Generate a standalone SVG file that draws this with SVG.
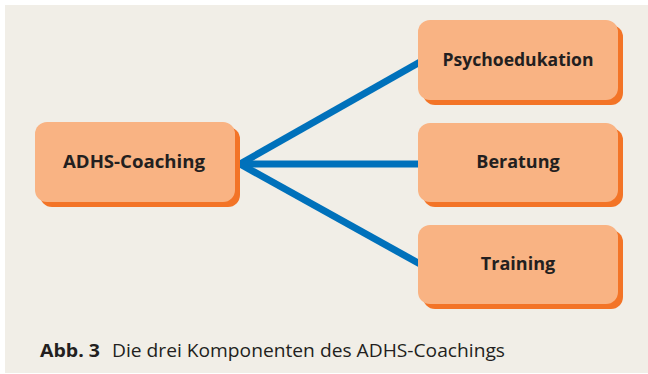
<svg xmlns="http://www.w3.org/2000/svg" width="648" height="374" viewBox="0 0 648 374">
  <style>
    .shadow { fill: #F37427; }
    .box { fill: #F9B383; }
    .label { font-family: "Open Sans", "Liberation Sans", sans-serif; font-weight: bold; font-size: 18px; fill: #231F20; text-anchor: middle; }
    .link { stroke: #0071BB; stroke-width: 7; fill: none; stroke-linecap: butt; }
    .cap { font-family: "Open Sans", "Liberation Sans", sans-serif; font-size: 18px; fill: #231F20; }
  </style>
  <rect x="5" y="5" width="643" height="368" fill="#F1EEE7"/>

  <g id="connectors">
    <line class="link" x1="240" y1="164" x2="420" y2="62"/>
    <line class="link" x1="240" y1="164" x2="420" y2="164"/>
    <line class="link" x1="240" y1="164" x2="420" y2="264"/>
  </g>

  <g id="adhs-coaching">
    <rect class="shadow" x="40" y="127" width="200" height="80" rx="12"/>
    <rect class="box" x="35" y="122" width="200" height="80" rx="12"/>
    <text class="label" x="134" y="168" textLength="142" lengthAdjust="spacingAndGlyphs">ADHS-Coaching</text>
  </g>

  <g id="psychoedukation">
    <rect class="shadow" x="423" y="25" width="200" height="80" rx="12"/>
    <rect class="box" x="418" y="20" width="200" height="80" rx="12"/>
    <text class="label" x="518" y="66" textLength="151" lengthAdjust="spacingAndGlyphs">Psychoedukation</text>
  </g>

  <g id="beratung">
    <rect class="shadow" x="423" y="128" width="200" height="79" rx="12"/>
    <rect class="box" x="418" y="123" width="200" height="79" rx="12"/>
    <text class="label" x="518" y="168">Beratung</text>
  </g>

  <g id="training">
    <rect class="shadow" x="423" y="230" width="200" height="79" rx="12"/>
    <rect class="box" x="418" y="225" width="200" height="79" rx="12"/>
    <text class="label" x="518" y="270">Training</text>
  </g>

  <text class="cap" y="357"><tspan x="40" font-weight="bold" textLength="60" lengthAdjust="spacingAndGlyphs">Abb. 3</tspan><tspan x="112" textLength="393" lengthAdjust="spacingAndGlyphs">Die drei Komponenten des ADHS-Coachings</tspan></text>
</svg>
